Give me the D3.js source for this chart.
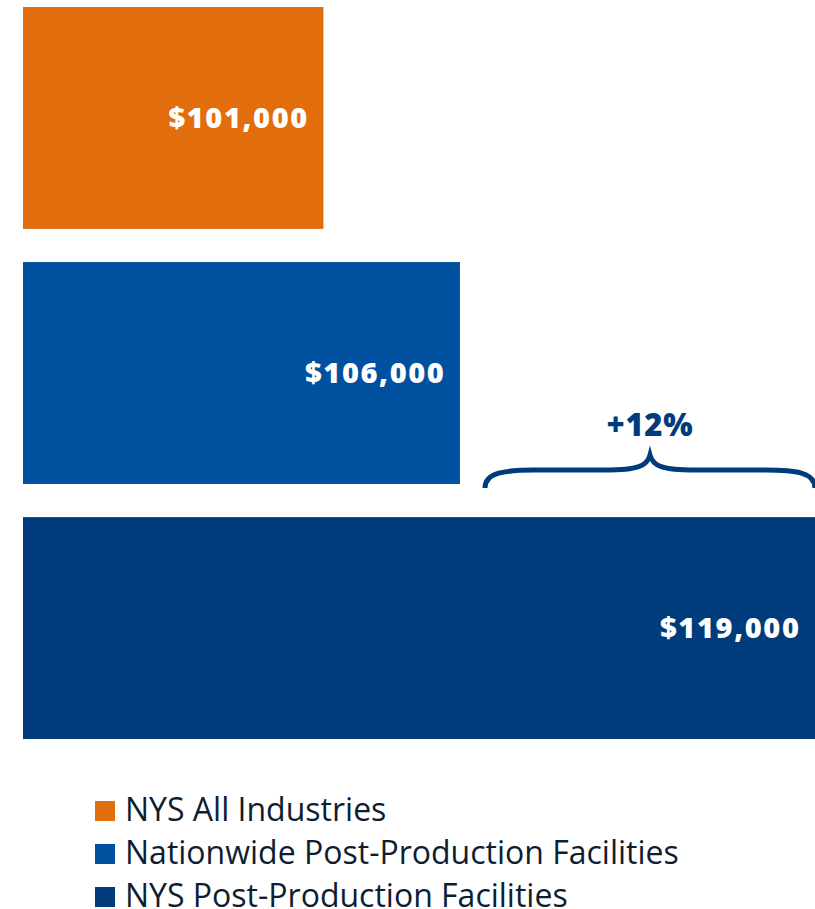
<!DOCTYPE html>
<html>
<head>
<meta charset="utf-8">
<script src="https://cdn.jsdelivr.net/npm/d3@7"></script>
<style>
  body { margin: 0; background: #fff; }
  svg { display: block; font-family: "Open Sans", sans-serif; }
</style>
</head>
<body>
<svg id="chart" width="815" height="909"></svg>
<script>
// Data
const categories = ["NYS All Industries", "Nationwide Post-Production Facilities", "NYS Post-Production Facilities"];
const wages = [101000, 106000, 119000];
const valueLabels = ["$101,000", "$106,000", "$119,000"];
const barColors = ["#E26D0C", "#0050A0", "#003C7B"];
const diffLabel = "+12%";

const width = 815;
const height = 909;

const svg = d3.select("#chart");

// Scales (axis starts at 90k, as in the original)
const xScale = d3.scaleLinear()
  .domain([90000, 119000])
  .range([23, 815]);

const yScale = d3.scaleBand()
  .domain(categories)
  .range([7, 739])
  .paddingInner(0.13)
  .paddingOuter(0);

// Bars
svg.selectAll(".bar")
  .data(categories)
  .enter()
  .append("rect")
  .attr("class", "bar")
  .attr("x", xScale(90000))
  .attr("y", d => yScale(d))
  .attr("width", (d, i) => xScale(wages[i]) - xScale(90000))
  .attr("height", yScale.bandwidth())
  .attr("fill", (d, i) => barColors[i]);

// Value labels inside bar ends
svg.selectAll(".value")
  .data(categories)
  .enter()
  .append("text")
  .attr("x", (d, i) => xScale(wages[i]) - 14.5)
  .attr("y", d => yScale(d) + yScale.bandwidth() / 2)
  .attr("dy", "0.36em")
  .attr("text-anchor", "end")
  .attr("fill", "#fff")
  .attr("font-weight", 800)
  .attr("font-size", 29)
  .attr("letter-spacing", 1.6)
  .text((d, i) => valueLabels[i]);

// Brace showing the difference between nationwide and NYS post-production
const bx0 = xScale(wages[1]) + 25;
const bx1 = xScale(wages[2]);
const bMid = (bx0 + bx1) / 2;
const bBottom = yScale(categories[2]) - 29;
const bFlat = bBottom - 18;
const bTip = bFlat - 15;

const brace = d3.path();
brace.moveTo(bx0, bBottom);
brace.bezierCurveTo(bx0, bFlat + 2, bx0 + 20, bFlat, bx0 + 50, bFlat);
brace.lineTo(bMid - 45, bFlat);
brace.bezierCurveTo(bMid - 12, bFlat, bMid - 3, bFlat - 4, bMid, bTip);
brace.bezierCurveTo(bMid + 3, bFlat - 4, bMid + 12, bFlat, bMid + 45, bFlat);
brace.lineTo(bx1 - 50, bFlat);
brace.bezierCurveTo(bx1 - 20, bFlat, bx1, bFlat + 2, bx1, bBottom);

svg.append("path")
  .attr("d", brace.toString())
  .attr("fill", "none")
  .attr("stroke", "#003C7B")
  .attr("stroke-width", 5);

svg.append("text")
  .attr("x", bMid)
  .attr("y", bTip - 19)
  .attr("text-anchor", "middle")
  .attr("fill", "#003C7B")
  .attr("font-weight", 800)
  .attr("font-size", 31)
  .attr("letter-spacing", 0.8)
  .text(diffLabel);

// Legend
const legend = svg.append("g").attr("transform", "translate(95,811)");

const rows = legend.selectAll(".row")
  .data(categories)
  .enter()
  .append("g")
  .attr("transform", (d, i) => `translate(0,${i * 43})`);

rows.append("rect")
  .attr("x", 0)
  .attr("y", -10)
  .attr("width", 20)
  .attr("height", 20)
  .attr("fill", (d, i) => barColors[i]);

rows.append("text")
  .attr("x", 30)
  .attr("y", 10)
  .attr("fill", "#0E1E32")
  .attr("font-size", 32)
  .text(d => d);
</script>
</body>
</html>
